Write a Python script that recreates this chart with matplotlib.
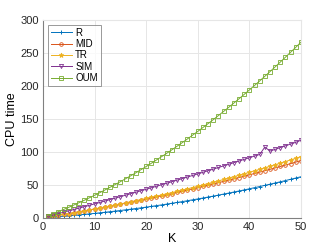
import matplotlib
matplotlib.use("Agg")
import matplotlib.pyplot as plt

plt.rcParams['font.family'] = ['Liberation Sans', 'DejaVu Sans']

K = list(range(1, 51))
r_vals = [0.5, 1.1, 1.7, 2.3, 2.9, 3.6, 4.3, 5.0, 5.8, 6.5,
          7.4, 8.2, 9.1, 10.0, 10.9, 11.9, 12.9, 13.9, 14.9, 16.0,
          17.1, 18.3, 19.4, 20.6, 21.9, 23.1, 24.4, 25.7, 27.1, 28.4,
          29.8, 31.3, 32.7, 34.2, 35.8, 37.3, 38.9, 40.5, 42.1, 43.8,
          45.5, 47.2, 49.0, 50.8, 52.6, 54.4, 56.3, 58.2, 60.1, 62.1]
mid_vals = [1.2, 2.4, 3.7, 5.0, 6.3, 7.6, 8.9, 10.3, 11.7, 13.1,
            14.5, 15.9, 17.4, 18.9, 20.4, 21.9, 23.5, 25.0, 26.6, 28.2,
            29.9, 31.5, 33.2, 34.9, 36.6, 38.4, 40.1, 41.9, 43.7, 45.5,
            47.4, 49.3, 51.2, 53.1, 55.0, 56.9, 58.9, 60.9, 62.9, 65.0,
            67.0, 69.1, 71.2, 73.3, 75.5, 77.6, 79.8, 82.0, 84.3, 86.5]
tr_vals = [1.2, 2.5, 3.7, 5.0, 6.3, 7.7, 9.0, 10.4, 11.9, 13.3,
           14.8, 16.3, 17.8, 19.4, 20.9, 22.5, 24.2, 25.8, 27.5, 29.2,
           30.9, 32.7, 34.5, 36.3, 38.1, 40.0, 41.9, 43.8, 45.7, 47.7,
           49.7, 51.7, 53.8, 55.8, 57.9, 60.1, 62.2, 64.4, 66.6, 68.8,
           71.1, 73.3, 75.6, 78.0, 80.3, 82.7, 85.1, 87.6, 90.0, 92.5]
sim_vals = [2.1, 4.1, 6.2, 8.3, 10.4, 12.5, 14.6, 16.7, 18.8, 21.0,
            23.1, 25.3, 27.5, 29.7, 31.9, 34.1, 36.4, 38.6, 40.9, 43.1,
            45.4, 47.7, 50.0, 52.3, 54.6, 57.0, 59.3, 61.7, 64.0, 66.4,
            68.8, 71.2, 73.6, 76.1, 78.5, 81.0, 83.4, 85.9, 88.4, 90.9,
            93.4, 95.9, 107.0, 101.0, 103.6, 106.3, 109.0, 111.6, 114.3, 117.5]
oum_vals = [3.0, 6.0, 9.2, 12.5, 15.8, 19.3, 22.8, 26.4, 30.2, 34.0,
            37.9, 42.0, 46.1, 50.3, 54.6, 59.0, 63.5, 68.1, 72.8, 77.6,
            82.5, 87.5, 92.6, 97.7, 103.0, 108.4, 113.8, 119.4, 125.1, 130.8,
            136.7, 142.6, 148.6, 154.8, 161.0, 167.3, 173.8, 180.3, 186.9, 193.6,
            200.4, 207.3, 214.3, 221.4, 228.6, 235.9, 243.3, 250.8, 258.3, 266.0]

fig = plt.figure(figsize=(3.32, 2.49), dpi=100)
ax = fig.add_axes([0.1295, 0.1257, 0.777, 0.795])

ax.plot(K, r_vals, color='#0072BD', marker='+', markersize=3.5, markeredgewidth=0.7, linewidth=0.7, label='R')
ax.plot(K, mid_vals, color='#D95319', marker='o', markersize=2.6, markeredgewidth=0.6, markerfacecolor='none', linewidth=0.7, label='MID')
ax.plot(K, tr_vals, color='#EDB120', marker='*', markersize=3.5, markeredgewidth=0.6, linewidth=0.7, label='TR')
ax.plot(K, sim_vals, color='#7E2F8E', marker='v', markersize=3, markeredgewidth=0.6, markerfacecolor='none', linewidth=0.7, label='SIM')
ax.plot(K, oum_vals, color='#77AC30', marker='s', markersize=2.5, markeredgewidth=0.6, markerfacecolor='none', linewidth=0.7, label='OUM')

ax.set_xlim(0, 50)
ax.set_ylim(0, 300)
ax.set_xticks([0, 10, 20, 30, 40, 50])
ax.set_yticks([0, 50, 100, 150, 200, 250, 300])
ax.grid(True, color='#e6e6e6', linewidth=0.7)
ax.set_axisbelow(True)
for s in ['left', 'bottom']:
    ax.spines[s].set_color('#808080')
for s in ['top', 'right']:
    ax.spines[s].set_color('#e6e6e6')
ax.tick_params(labelsize=8, colors='#262626', length=0, pad=3)
ax.set_xlabel('K', fontsize=9, labelpad=1)
ax.set_ylabel('CPU time', fontsize=9, labelpad=2)

leg = ax.legend(loc='upper left', fontsize=7, frameon=True, fancybox=False,
                borderpad=0.3, labelspacing=0.15, handlelength=2.2, handletextpad=0.3,
                borderaxespad=0.5)
leg.get_frame().set_edgecolor('#808080')
leg.get_frame().set_linewidth(0.7)

fig.savefig('out.png', dpi=100)
